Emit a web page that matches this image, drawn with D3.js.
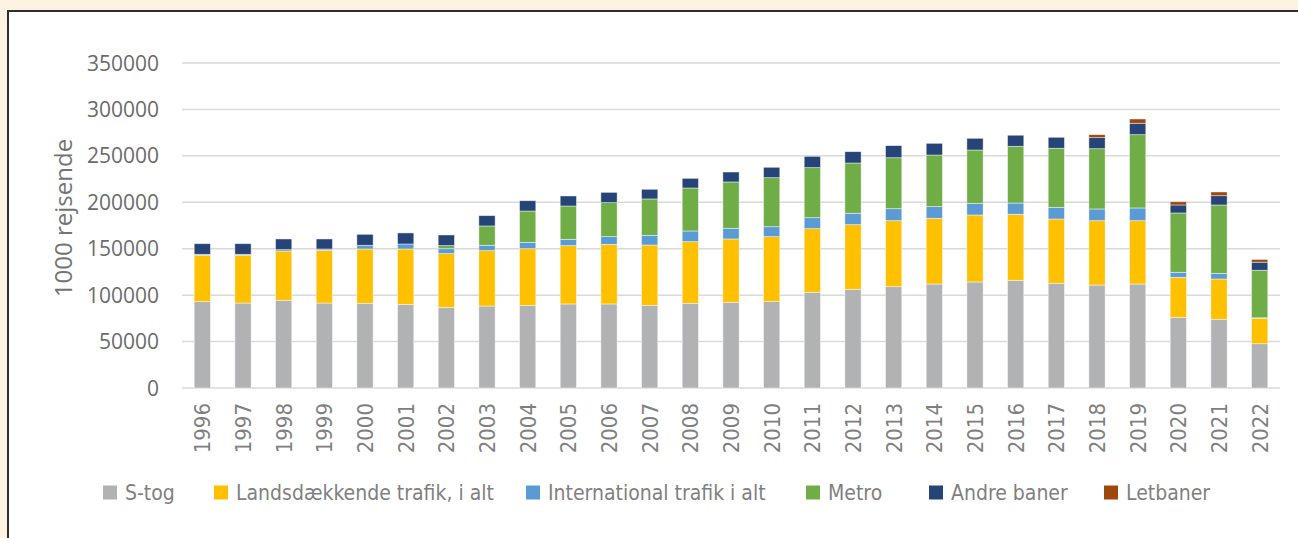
<!DOCTYPE html>
<html>
<head>
<meta charset="utf-8">
<script src="https://cdn.jsdelivr.net/npm/d3@7"></script>
<style>
    html, body { margin: 0; padding: 0; background: #fdf3e3; }
    .tick-label { font-family: 'Open Sans', sans-serif; font-size: 21px; fill: #6b6b6b; }
    .year-label { font-family: 'DejaVu Sans Condensed', 'DejaVu Sans', sans-serif; font-stretch: condensed; font-size: 22px; fill: #7f7f7f; }
    .axis-title { font-family: 'Open Sans', sans-serif; font-size: 24px; fill: #737373; }
    .legend-text { font-family: 'DejaVu Sans Condensed', 'DejaVu Sans', sans-serif; font-stretch: condensed; font-size: 21px; fill: #7f7f7f; }
</style>
</head>
<body>
<div id="chart"></div>
<script>
const WIDTH = 1298;
const HEIGHT = 538;

const years = ['1996', '1997', '1998', '1999', '2000', '2001', '2002', '2003', '2004', '2005',
    '2006', '2007', '2008', '2009', '2010', '2011', '2012', '2013', '2014', '2015',
    '2016', '2017', '2018', '2019', '2020', '2021', '2022'];

const sTog = [93000, 91500, 94500, 91500, 91200, 90100, 86900, 88300, 89000, 90500,
    90500, 89000, 91200, 92300, 93000, 103100, 106300, 109100, 112000, 114200,
    116000, 112800, 110900, 112000, 76100, 74000, 47700];
const landsdaekkende = [50000, 51500, 53000, 56800, 58500, 59600, 57800, 59600, 61000, 62800,
    64200, 65000, 66400, 68200, 70000, 68500, 69600, 71100, 70800, 72100,
    71100, 69200, 69300, 68200, 43100, 43400, 27400];
const international = [1000, 1000, 1500, 1400, 4000, 5400, 5300, 5800, 6900, 6800,
    8300, 10400, 11500, 11500, 10700, 11800, 12300, 12900, 12500, 12600,
    12100, 12600, 12600, 13700, 5400, 6100, 500];
const metro = [0, 0, 0, 0, 0, 0, 3300, 20800, 33700, 35900,
    36600, 39200, 46300, 49900, 52800, 53900, 54100, 54900, 55600, 57400,
    61100, 63600, 64900, 78900, 63900, 73600, 51200];
const andreBaner = [11400, 11400, 11500, 10800, 11800, 11900, 11500, 11100, 11100, 10800,
    11100, 10400, 10400, 10700, 11200, 12200, 12200, 13000, 12600, 12600,
    11900, 11800, 11900, 12300, 8600, 10000, 8700];
const letbaner = [0, 0, 0, 0, 0, 0, 0, 0, 0, 0,
    0, 0, 0, 0, 0, 0, 0, 0, 0, 0,
    0, 0, 3200, 4600, 3500, 4000, 2900];

const seriesNames = ['S-tog', 'Landsdækkende trafik, i alt', 'International trafik i alt', 'Metro', 'Andre baner', 'Letbaner'];
const seriesValues = [sTog, landsdaekkende, international, metro, andreBaner, letbaner];
const yTicks = [0, 50000, 100000, 150000, 200000, 250000, 300000, 350000];

const colorScale = d3.scaleOrdinal()
    .domain(seriesNames)
    .range(['#b1b2b4', '#ffc000', '#5b9bd5', '#70ad47', '#264478', '#9e480e']);

// build rows for the stack
const rows = years.map((year, i) => {
    const row = { year };
    seriesNames.forEach((name, s) => { row[name] = seriesValues[s][i]; });
    return row;
});
const stacked = d3.stack().keys(seriesNames)(rows);

const xScale = d3.scaleBand()
    .domain(years)
    .range([182, 1280])
    .paddingInner(0.6)
    .paddingOuter(0.3);

const yScale = d3.scaleLinear()
    .domain([0, 350000])
    .range([388, 63]);

const svg = d3.select('#chart')
    .append('svg')
    .attr('width', WIDTH)
    .attr('height', HEIGHT);

// white panel with dark border
svg.append('rect')
    .attr('x', 8)
    .attr('y', 11)
    .attr('width', WIDTH + 10)
    .attr('height', HEIGHT + 10)
    .attr('fill', '#ffffff')
    .attr('stroke', '#2e2e2e')
    .attr('stroke-width', 2);

// gridlines
svg.append('g')
    .selectAll('line')
    .data(yTicks)
    .enter()
    .append('line')
    .attr('x1', 182)
    .attr('x2', 1280)
    .attr('y1', d => yScale(d))
    .attr('y2', d => yScale(d))
    .attr('stroke', '#d9d9d9')
    .attr('stroke-width', 1.5);

// y tick labels
svg.append('g')
    .selectAll('text')
    .data(yTicks)
    .enter()
    .append('text')
    .attr('class', 'tick-label')
    .attr('x', 159)
    .attr('y', d => yScale(d))
    .attr('dy', '0.36em')
    .attr('text-anchor', 'end')
    .text(d => d);

svg.append('text')
    .attr('class', 'axis-title')
    .attr('transform', 'rotate(-90)')
    .attr('x', -218)
    .attr('y', 72)
    .attr('text-anchor', 'middle')
    .text('1000 rejsende');

// stacked bars
svg.append('g')
    .selectAll('g')
    .data(stacked)
    .enter()
    .append('g')
    .attr('fill', d => colorScale(d.key))
    .selectAll('rect')
    .data(d => d)
    .enter()
    .append('rect')
    .attr('x', d => xScale(d.data.year))
    .attr('y', d => yScale(d[1]))
    .attr('width', xScale.bandwidth())
    .attr('height', d => yScale(d[0]) - yScale(d[1]))
    .attr('stroke', '#ffffff')
    .attr('stroke-opacity', 0.6)
    .attr('stroke-width', 0.75);

// year labels
svg.append('g')
    .selectAll('text')
    .data(years)
    .enter()
    .append('text')
    .attr('class', 'year-label')
    .attr('transform', d => `translate(${xScale(d) + xScale.bandwidth() / 2},403) rotate(-90)`)
    .attr('dy', '0.36em')
    .attr('text-anchor', 'end')
    .text(d => d);

drawLegend();

function drawLegend() {
    const legendX = [103, 214, 526, 806, 929, 1104];
    const legend = svg.append('g')
        .attr('class', 'legend')
        .attr('transform', 'translate(0,492.5)');

    seriesNames.forEach((name, index) => {
        const item = legend.append('g')
            .attr('transform', `translate(${legendX[index]},0)`);

        item.append('rect')
            .attr('x', 0)
            .attr('y', -7)
            .attr('width', 14)
            .attr('height', 14)
            .attr('fill', colorScale(name));

        item.append('text')
            .attr('class', 'legend-text')
            .attr('x', 22)
            .attr('y', 0)
            .attr('dy', '0.35em')
            .text(name);
    });
}
</script>
</body>
</html>
